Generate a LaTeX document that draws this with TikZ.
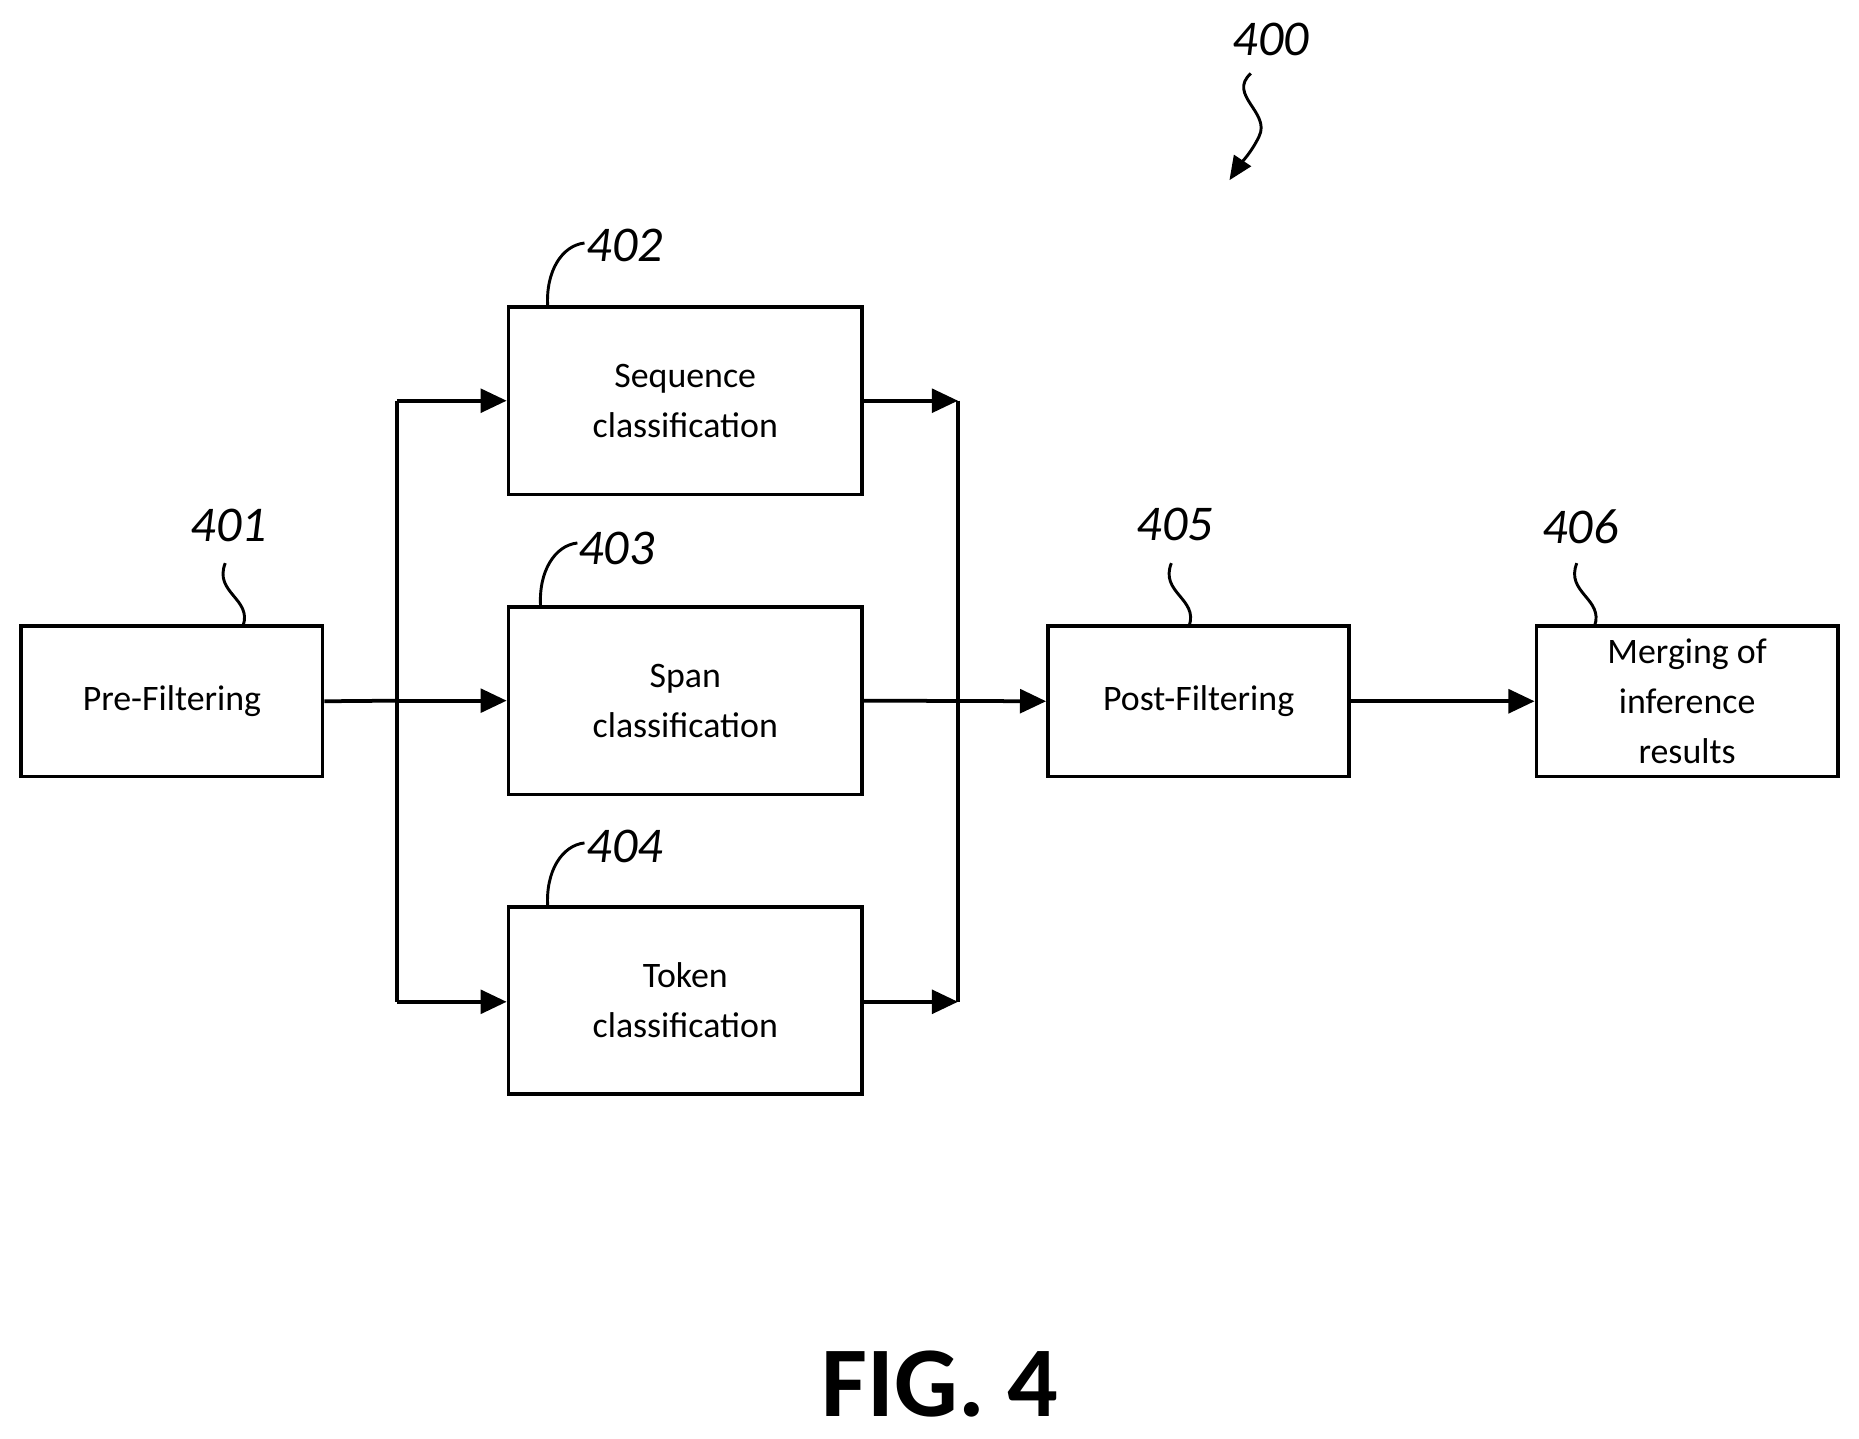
\documentclass[tikz,border=0pt]{standalone}
\usepackage{fontspec}
\setmainfont{Carlito}
\usetikzlibrary{arrows.meta}
\begin{document}
\begin{tikzpicture}[x=0.01cm,y=-0.01cm,
  box/.style={draw,line width=0.9pt,inner sep=0pt,align=center,font=\fontsize{8.6pt}{12pt}\selectfont},
  lbl/.style={font=\fontsize{12pt}{14pt}\selectfont\itshape},
  ln/.style={line width=0.9pt},
  arr/.style={ln,-{Triangle[length=0.22cm,width=0.2cm]}},
  sq/.style={line width=0.7pt}]
\useasboundingbox (0,0) rectangle (1568,1213);
\node[box,minimum width=254\pgflinewidth,minimum width=2.54cm,minimum height=1.27cm] (b1) at (145,591.5) {Pre-Filtering};
\node[box,minimum width=2.98cm,minimum height=1.58cm] (b2) at (578,338) {Sequence\\classification};
\node[box,minimum width=2.98cm,minimum height=1.58cm] (b3) at (578,591) {Span\\classification};
\node[box,minimum width=2.98cm,minimum height=1.58cm] (b4) at (578,844) {Token\\classification};
\node[box,minimum width=2.54cm,minimum height=1.27cm] (b5) at (1011,591.5) {Post-Filtering};
\node[box,minimum width=2.54cm,minimum height=1.27cm] (b6) at (1423,591.5) {Merging of\\inference\\results};
\coordinate (s1) at (335,338); \coordinate (s3) at (335,845);
\coordinate (m1) at (808,338); \coordinate (m3) at (808,845);
\draw[ln] (b1.east) -- (335,591);
\draw[ln] (s1) -- (s3);
\draw[arr] (s1) -- (b2.west|-s1);
\draw[arr] (335,591) -- (b3.west);
\draw[arr] (s3) -- (b4.west|-s3);
\draw[arr] (b2.east|-m1) -- (m1);
\draw[arr] (b4.east|-m3) -- (m3);
\draw[ln] (m1) -- (m3);
\draw[arr] (b3.east) -- (b5.west);
\draw[arr] (b5.east) -- (b6.west);
% labels
\node[lbl] (l1) at (193,443) {401};
\node[lbl] (l2) at (527,207) {402};
\node[lbl] (l3) at (520,463) {403};
\node[lbl] (l4) at (527,714) {404};
\node[lbl] (l5) at (991,442) {405};
\node[lbl] (l6) at (1333,444) {406};
\node[lbl] (l0) at (1072,33) {400};
\foreach \b/\x in {b1/205,b5/1003,b6/1345}{
  \draw[sq] (\x,528) .. controls (\x+8,505) and (\x-25,500) .. (\x-15,475);}
\foreach \b/\x/\y in {b2/462/259,b3/456/512,b4/462/765}{
  \draw[sq] (\x,\y) .. controls (\x-2,\y-30) and (\x+12,\y-52) .. (\x+31,\y-54);}
\draw[sq,-{Triangle[length=0.2cm,width=0.17cm]}] (1055,62) .. controls (1035,80) and (1072,95) .. (1062,115) .. controls (1056,128) and (1045,140) .. (1037,152);
\node[font=\fontsize{24pt}{28pt}\selectfont\bfseries] (fig) at (793,1167) {FIG. 4};
\end{tikzpicture}
\end{document}
